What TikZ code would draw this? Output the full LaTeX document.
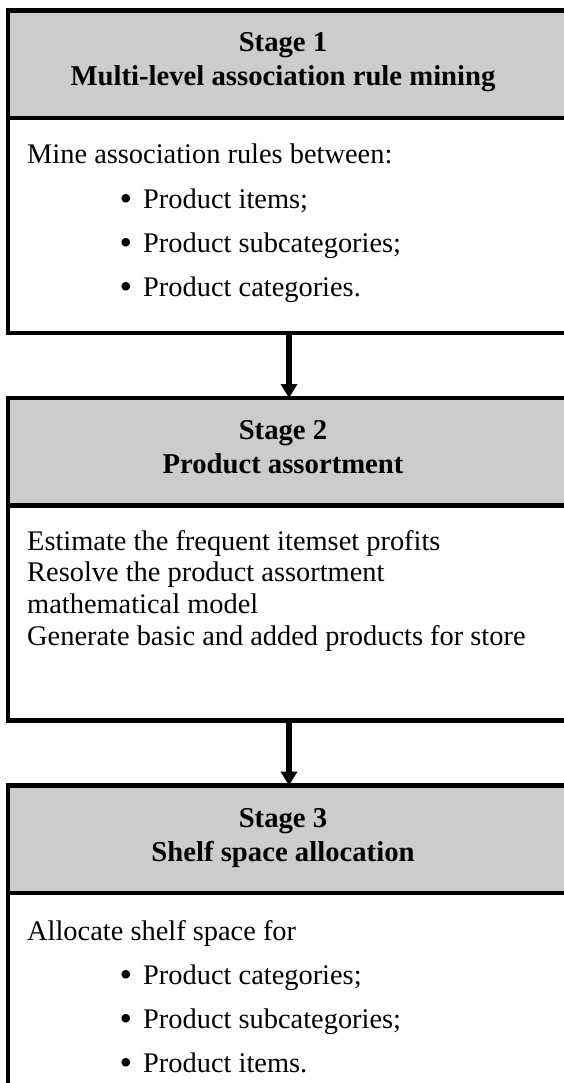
\documentclass[tikz,border=0pt]{standalone}
\usepackage{fontspec}
\setmainfont{Liberation Serif}
\usetikzlibrary{arrows.meta}
\definecolor{hdrgray}{RGB}{204,204,204}
\newcommand{\bul}{\makebox[23.5pt][l]{\raisebox{-2pt}{\scalebox{1.25}{\textbullet}}}}
\tikzset{
  hdrbox/.style={draw, line width=4.5pt, fill=hdrgray, minimum width=572pt, minimum height=107.5pt, anchor=north west, inner sep=0pt, outer sep=0pt},
  bodybox/.style={draw, line width=4.5pt, fill=white, minimum width=572pt, minimum height=215pt, anchor=north west, inner sep=0pt, outer sep=0pt},
  title/.style={font=\bfseries\fontsize{28.7}{34}\selectfont, inner sep=0pt, anchor=base},
  txt/.style={font=\fontsize{28.4}{31.7}\selectfont, inner sep=0pt, anchor=base west},
  flow/.style={line width=5.5pt, -{Triangle[width=16pt,length=14pt]}}
}
\begin{document}
\begin{tikzpicture}[x=1pt,y=-1pt]
\useasboundingbox (0,0) rectangle (564,1083);
\clip (0,0) rectangle (564,1083);
% Stage 1
\node[hdrbox] (h1) at (8,10.5) {};
\node[bodybox] (b1) at (8,118) {};
\node[title] (t1a) at (283,52) {Stage 1};
\node[title] (t1b) at (283,86) {Multi-level association rule mining};
\node[txt] (l1a) at (27,163.5) {Mine association rules between:};
\node[txt] (l1b) at (119.5,208.5) {\bul Product items;};
\node[txt] (l1c) at (119.5,252.5) {\bul Product subcategories;};
\node[txt] (l1d) at (119.5,296.5) {\bul Product categories.};
% Stage 2
\node[hdrbox] (h2) at (8,398) {};
\node[bodybox] (b2) at (8,505.5) {};
\node[title] (t2a) at (283,439.5) {Stage 2};
\node[title] (t2b) at (283,473.5) {Product assortment};
\node[txt] (l2a) at (27,550) {Estimate the frequent itemset profits};
\node[txt] (l2b) at (27,581.5) {Resolve the product assortment};
\node[txt] (l2c) at (27,613) {mathematical model};
\node[txt] (l2d) at (27,645) {Generate basic and added products for store};
% Stage 3
\node[hdrbox] (h3) at (8,785.5) {};
\node[bodybox, minimum height=300pt] (b3) at (8,893) {};
\node[title] (t3a) at (283,827) {Stage 3};
\node[title] (t3b) at (283,861) {Shelf space allocation};
\node[txt] (l3a) at (27,940) {Allocate shelf space for};
\node[txt] (l3b) at (119.5,984.5) {\bul Product categories;};
\node[txt] (l3c) at (119.5,1028.5) {\bul Product subcategories;};
\node[txt] (l3d) at (119.5,1072.5) {\bul Product items.};
% arrows
\draw[flow] (b1.south -| 289,0) -- (h2.north -| 289,0);
\draw[flow] (b2.south -| 289,0) -- (h3.north -| 289,0);
\end{tikzpicture}
\end{document}
